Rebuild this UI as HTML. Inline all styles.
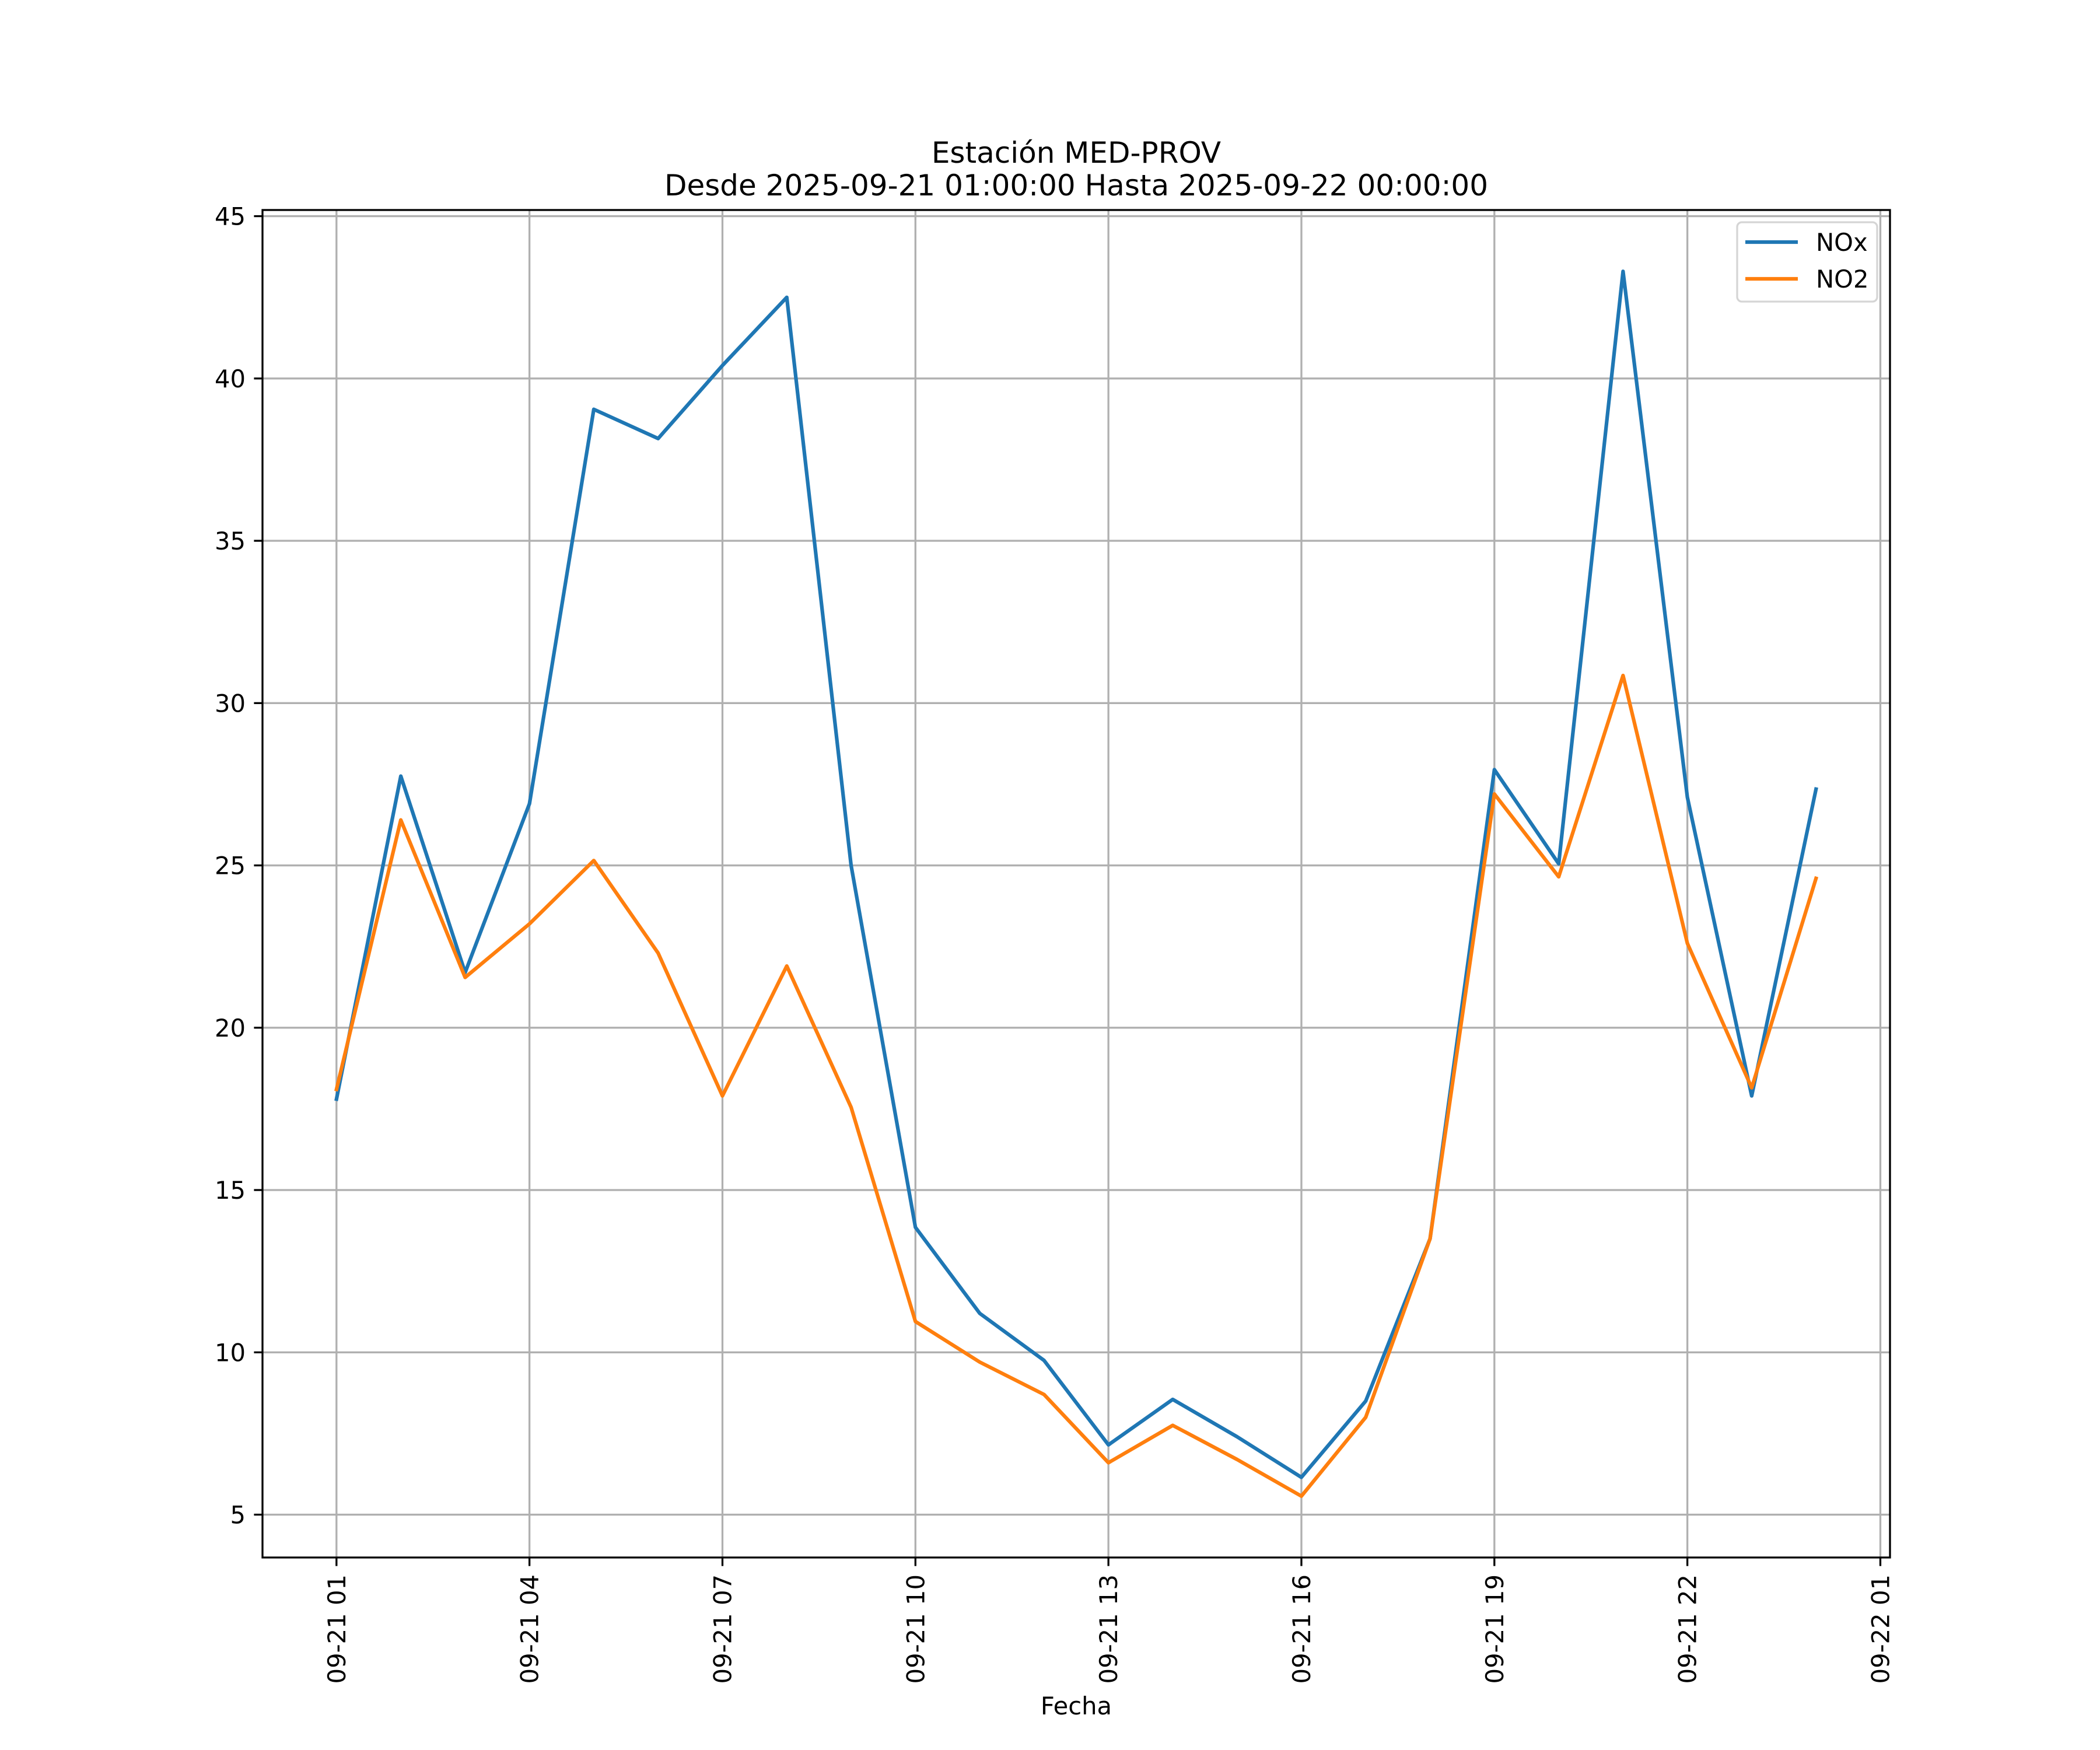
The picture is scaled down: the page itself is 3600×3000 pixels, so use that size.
<!DOCTYPE html>
<html><head><meta charset="utf-8"><style>body{margin:0;background:#fff}svg{display:block}text{font-family:"DejaVu Sans","Liberation Sans",sans-serif;fill:#000}</style></head>
<body>
<svg id="chart" width="3600" height="3000" viewBox="0 0 3600 3000" xmlns="http://www.w3.org/2000/svg">
<rect width="3600" height="3000" fill="#fff"/>
<g id="grid"></g>
<g id="lines"></g>
<rect x="450" y="360" width="2790" height="2310" fill="none" stroke="#000" stroke-width="3.3"/>
<g id="ticks"></g>
<text x="1845" y="279" font-size="50" text-anchor="middle">Estación MED-PROV</text>
<text x="1845" y="335" font-size="50" text-anchor="middle">Desde 2025-09-21 01:00:00 Hasta 2025-09-22 00:00:00</text>
<text x="1845" y="2939" font-size="41.7" text-anchor="middle">Fecha</text>
<g>
<rect x="2978" y="381" width="240" height="136" rx="8" fill="#fff" fill-opacity="0.8" stroke="#d5d5d5" stroke-width="3.3"/>
<line x1="2992" y1="415" x2="3082" y2="415" stroke="#1f77b4" stroke-width="6.25"/>
<text x="3113" y="430" font-size="41.7">NOx</text>
<line x1="2992" y1="478" x2="3082" y2="478" stroke="#ff7f0e" stroke-width="6.25"/>
<text x="3113" y="493" font-size="41.7">NO2</text>
</g>
</svg>
<script>
const hours = [0,1,2,3,4,5,6,7,8,9,10,11,12,13,14,15,16,17,18,19,20,21,22,23];
const noxValues = [17.8,27.75,21.7,26.9,39.05,38.15,40.4,42.5,25.0,13.85,11.2,9.75,7.15,8.55,7.4,6.15,8.5,13.5,27.95,25.05,43.3,27.1,17.9,27.35];
const no2Values = [18.1,26.4,21.55,23.2,25.15,22.3,17.9,21.9,17.55,10.95,9.7,8.7,6.6,7.75,6.7,5.57,8.0,13.5,27.2,24.65,30.85,22.6,18.15,24.6];
const xTickHours = [0,3,6,9,12,15,18,21,24];
const xTickLabels = ["09-21 01","09-21 04","09-21 07","09-21 10","09-21 13","09-21 16","09-21 19","09-21 22","09-22 01"];
const yTicks = [5,10,15,20,25,30,35,40,45];
const L=450,R=3240,T=360,B=2670;
const xmin=-1.15,xmax=24.15,ymin=3.68,ymax=45.19;
const X=h=>L+(h-xmin)/(xmax-xmin)*(R-L);
const Y=v=>B-(v-ymin)/(ymax-ymin)*(B-T);
const NS="http://www.w3.org/2000/svg";
function mk(tag,attrs,parent){const e=document.createElementNS(NS,tag);for(const k in attrs)e.setAttribute(k,attrs[k]);parent.appendChild(e);return e;}
const grid=document.getElementById('grid'),ticks=document.getElementById('ticks'),lines=document.getElementById('lines');
xTickHours.forEach((h,i)=>{const x=X(h);
 const g=mk('line',{x1:x,y1:T,x2:x,y2:B,stroke:'#b0b0b0','stroke-width':3.3},grid);
 
 
 const t=mk('line',{x1:x,y1:B,x2:x,y2:B+14.6,stroke:'#000','stroke-width':3.3},ticks);
 
 
 const tx=mk('text',{x:0,y:0,'font-size':41.7,'text-anchor':'end',transform:`translate(${x+15},${B+29}) rotate(-90)`},ticks);
 tx.textContent=xTickLabels[i];
 
 
});
yTicks.forEach(v=>{const y=Y(v);
 const g=mk('line',{x1:L,y1:y,x2:R,y2:y,stroke:'#b0b0b0','stroke-width':3.3},grid);
 
 
 const t=mk('line',{x1:L-14.6,y1:y,x2:L,y2:y,stroke:'#000','stroke-width':3.3},ticks);
 
 
 const tx=mk('text',{x:L-29,y:y+15,'font-size':41.7,'text-anchor':'end'},ticks);
 tx.textContent=v;
 
 
});
function series(vals,color,name){
 const p=mk('polyline',{points:vals.map((v,i)=>X(hours[i])+','+Y(v)).join(' '),fill:'none',stroke:color,'stroke-width':6.25,'stroke-linejoin':'round','stroke-linecap':'square'},lines);
 
 
}
series(noxValues,'#1f77b4','nox-line');
series(no2Values,'#ff7f0e','no2-line');
</script>
</body></html>
